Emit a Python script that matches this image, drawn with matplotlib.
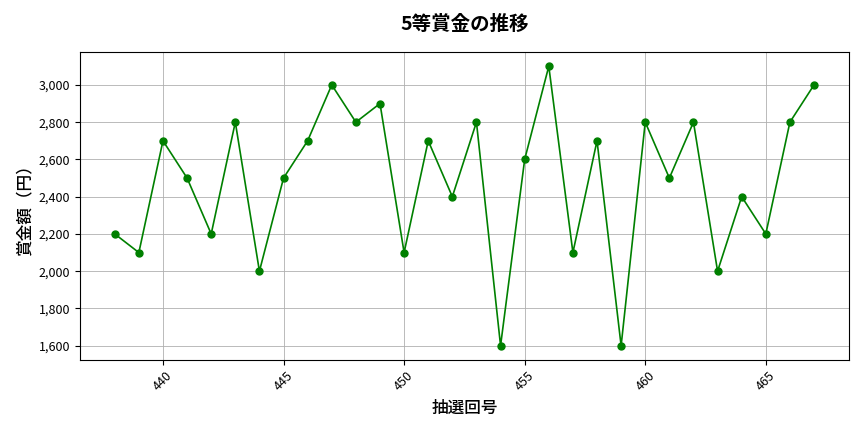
import matplotlib.pyplot as plt
from matplotlib.ticker import FuncFormatter

plt.rcParams['font.family'] = ['Noto Sans CJK JP', 'DejaVu Sans']

# draw numbers and 5th prize amounts
draws = list(range(438, 468))
prizes = [2200, 2100, 2700, 2500, 2200, 2800, 2000, 2500, 2700, 3000,
          2800, 2900, 2100, 2700, 2400, 2800, 1600, 2600, 3100, 2100,
          2700, 1600, 2800, 2500, 2800, 2000, 2400, 2200, 2800, 3000]

fig, ax = plt.subplots(figsize=(8.64, 4.32), dpi=100)
ax.plot(draws, prizes, marker='o', color='green', markersize=5, linewidth=1.2)

ax.set_title('5等賞金の推移', fontsize=14, fontweight='bold', pad=16)
ax.set_xlabel('抽選回号', fontsize=12, fontweight='medium')
ax.set_ylabel('賞金額（円）', fontsize=12, fontweight='medium')
ax.yaxis.set_major_formatter(FuncFormatter(lambda v, p: f'{int(v):,}'))
ax.grid(True, color='#b0b0b0', linewidth=0.6)
plt.setp(ax.get_xticklabels(), rotation=45)
ax.tick_params(labelsize=9)

fig.tight_layout()
fig.savefig('out.png')
